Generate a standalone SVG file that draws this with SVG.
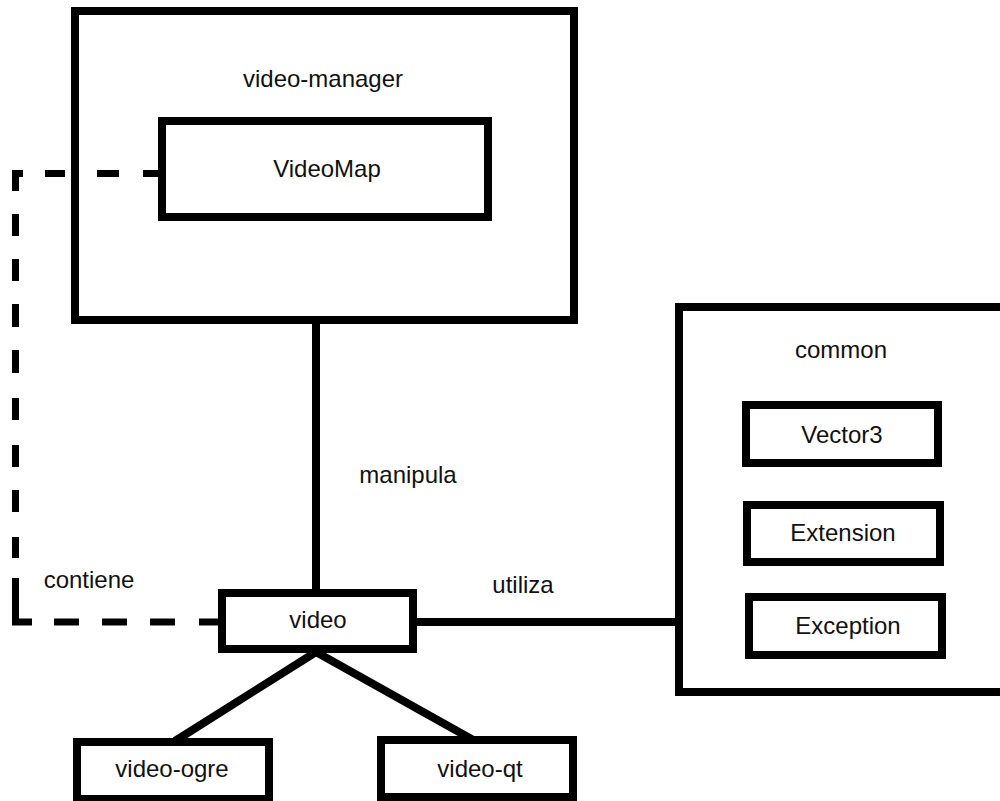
<svg xmlns="http://www.w3.org/2000/svg" width="1000" height="801" viewBox="0 0 1000 801">
  <style>
    .box { fill: #fff; stroke: #000; stroke-width: 8; }
    .frame { fill: none; stroke: #000; stroke-width: 8; }
    .link { fill: none; stroke: #000; stroke-width: 8; }
    .dash { fill: none; stroke: #000; stroke-width: 7; stroke-linecap: butt; stroke-linejoin: miter; }
    .lbl { font-family: "Liberation Sans", Arial, sans-serif; font-size: 24px; fill: #111; text-anchor: middle; }
  </style>
  <rect width="1000" height="801" fill="#fff"/>

  <!-- package: video-manager -->
  <g id="video-manager">
    <rect class="frame" x="75" y="11" width="499" height="309"/>
    <text class="lbl" x="323" y="87">video-manager</text>
  </g>

  <!-- package: common -->
  <g id="common">
    <rect class="frame" x="679" y="307" width="340" height="385"/>
    <text class="lbl" x="841" y="358">common</text>
  </g>

  <!-- connectors -->
  <g id="connectors">
    <!-- manipula -->
    <line class="link" x1="316" y1="324" x2="316" y2="590"/>
    <!-- utiliza -->
    <line class="link" x1="417" y1="622" x2="680" y2="622"/>
    <!-- specializations -->
    <line class="link" x1="316" y1="652" x2="175" y2="741"/>
    <line class="link" x1="316" y1="652" x2="475" y2="741"/>
    <!-- contiene (dashed) -->
    <path class="dash" d="M15.5 191 V173.5 H23 M45 173.5 H65 M97 173.5 H119 M143 173.5 H162
      M15.5 214 V236 M15.5 259 V281 M15.5 304 V327 M15.5 350 V373 M15.5 398 V420
      M15.5 445 V467 M15.5 490 V512 M15.5 537 V558
      M15.5 578 V622 H32 M54 622 H79 M102 622 H127 M150 622 H175 M199 622 H222"/>
    <text class="lbl" x="408" y="483">manipula</text>
    <text class="lbl" x="523" y="593">utiliza</text>
    <text class="lbl" x="89" y="588">contiene</text>
  </g>

  <g id="VideoMap">
    <rect class="box" x="162" y="121" width="326" height="96"/>
    <text class="lbl" x="327" y="177">VideoMap</text>
  </g>

  <g id="video">
    <rect class="box" x="222" y="593" width="191" height="56"/>
    <text class="lbl" x="318" y="628">video</text>
  </g>

  <g id="video-ogre">
    <rect class="box" x="77" y="742" width="192" height="57"/>
    <text class="lbl" x="172" y="777">video-ogre</text>
  </g>

  <g id="video-qt">
    <rect class="box" x="381" y="740" width="192" height="57"/>
    <text class="lbl" x="480" y="777">video-qt</text>
  </g>

  <g id="Vector3">
    <rect class="box" x="746" y="405" width="192" height="58"/>
    <text class="lbl" x="842" y="443">Vector3</text>
  </g>

  <g id="Extension">
    <rect class="box" x="747" y="505" width="193" height="57"/>
    <text class="lbl" x="843" y="541">Extension</text>
  </g>

  <g id="Exception">
    <rect class="box" x="749" y="597" width="193" height="58"/>
    <text class="lbl" x="848" y="634">Exception</text>
  </g>
</svg>
